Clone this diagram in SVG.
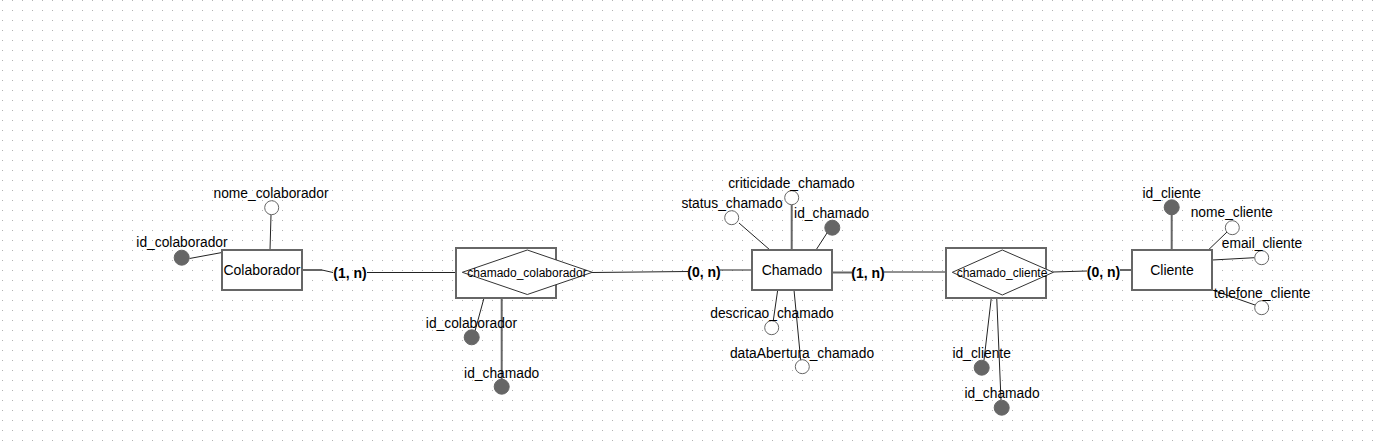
<svg xmlns="http://www.w3.org/2000/svg" width="1375" height="445" viewBox="0 0 1375 445">
<defs>
<pattern id="grid" x="0" y="0" width="10" height="10" patternUnits="userSpaceOnUse">
<rect x="2" y="0" width="1" height="1" fill="#b3b3b3"/>
</pattern>
<style>
.ent{fill:#fff;stroke:#666;stroke-width:2}
.rel{fill:#fff;stroke:#666;stroke-width:2}
.dia{fill:#fff;stroke:#333;stroke-width:1}
.key{fill:#666;stroke:#666;stroke-width:1}
.att{fill:#fff;stroke:#666;stroke-width:1}
.ln{fill:none;stroke:#222;stroke-width:1}
.lg{fill:none;stroke:#666;stroke-width:2}
text{font-family:"Liberation Sans",Arial,sans-serif;fill:#000}
.lbl{font-size:13.8px;text-anchor:middle}
.name{font-size:14px;text-anchor:middle}
.rname{font-size:12px;text-anchor:middle}
.card{font-size:14px;font-weight:bold;text-anchor:middle}
</style>
</defs>
<rect width="1375" height="445" fill="#fff"/>
<rect width="1375" height="445" fill="url(#grid)"/>

<g id="connectors">
<polyline class="lg" points="302,270 322,270"/>
<polyline class="ln" points="322,270 333,272.5"/>
<line class="ln" x1="367" y1="272.5" x2="456" y2="272.5"/>
<line class="ln" x1="592" y1="272.5" x2="688" y2="271.5"/>
<line class="ln" x1="720" y1="270" x2="752" y2="270"/>
<line class="lg" x1="832" y1="272.5" x2="852" y2="272.5"/>
<line class="ln" x1="884" y1="272" x2="946" y2="272"/>
<line class="ln" x1="1053" y1="272" x2="1087" y2="271"/>
<line class="lg" x1="1120" y1="270" x2="1132" y2="270"/>
<!-- attribute lines -->
<line class="ln" x1="271" y1="215" x2="270" y2="250"/>
<line class="ln" x1="189.5" y1="258.5" x2="222" y2="252.5"/>
<line class="ln" x1="484" y1="298" x2="475" y2="331"/>
<line class="lg" x1="501.7" y1="298" x2="501.7" y2="387"/>
<line class="ln" x1="739" y1="223" x2="770" y2="250"/>
<line class="lg" x1="791.7" y1="205" x2="791.7" y2="250"/>
<line class="ln" x1="827" y1="233" x2="816" y2="250"/>
<line class="ln" x1="777.7" y1="290" x2="773.3" y2="320.5"/>
<line class="ln" x1="794" y1="290" x2="800.7" y2="360"/>
<line class="lg" x1="1171.7" y1="213" x2="1171.7" y2="250"/>
<line class="ln" x1="1227" y1="232" x2="1208.3" y2="250"/>
<line class="ln" x1="1212.3" y1="260" x2="1254.5" y2="257.7"/>
<line class="ln" x1="1212.3" y1="290" x2="1255" y2="305"/>
<line class="ln" x1="991.7" y1="294.5" x2="984" y2="360"/>
<line class="ln" x1="996.7" y1="297" x2="1001" y2="400"/>
<text class="card" x="350" y="277.5">(1, n)</text>
<text class="card" x="704" y="277">(0, n)</text>
<text class="card" x="868" y="277.5">(1, n)</text>
<text class="card" x="1103.5" y="276.5">(0, n)</text>
</g>

<g id="Colaborador">
<rect class="ent" x="222" y="250" width="80" height="40"/>
<text class="name" x="262" y="275">Colaborador</text>
</g>
<g id="attr-nome_colaborador">
<circle class="att" cx="271.7" cy="207.7" r="7"/>
<text class="lbl" x="271" y="198">nome_colaborador</text>
</g>
<g id="attr-id_colaborador">
<circle class="key" cx="181.7" cy="257.7" r="7.5"/>
<text class="lbl" x="182" y="247">id_colaborador</text>
</g>

<g id="chamado_colaborador">
<rect class="rel" x="456" y="248" width="100" height="50"/>
<polygon class="dia" points="462.3,272.3 527.3,250 592.3,272.3 527.3,294.5"/>
<text class="rname" x="527" y="276.5">chamado_colaborador</text>
</g>
<g id="attr-cc-id_colaborador">
<circle class="key" cx="471.7" cy="337.3" r="7.5"/>
<text class="lbl" x="471.5" y="327.5">id_colaborador</text>
</g>
<g id="attr-cc-id_chamado">
<circle class="key" cx="501.7" cy="386.7" r="7.5"/>
<text class="lbl" x="501.7" y="377.5">id_chamado</text>
</g>

<g id="Chamado">
<rect class="ent" x="752" y="250" width="80" height="40"/>
<text class="name" x="792" y="275">Chamado</text>
</g>
<g id="attr-status_chamado">
<circle class="att" cx="731.7" cy="217.7" r="7"/>
<text class="lbl" x="732" y="207.5">status_chamado</text>
</g>
<g id="attr-criticidade_chamado">
<circle class="att" cx="791.7" cy="197.7" r="7"/>
<text class="lbl" x="791.5" y="187.5">criticidade_chamado</text>
</g>
<g id="attr-id_chamado">
<circle class="key" cx="832.3" cy="227.7" r="7.5"/>
<text class="lbl" x="831.7" y="218">id_chamado</text>
</g>
<g id="attr-descricao_chamado">
<circle class="att" cx="771.7" cy="327.7" r="7"/>
<text class="lbl" x="772" y="318">descricao_chamado</text>
</g>
<g id="attr-dataAbertura_chamado">
<circle class="att" cx="802.3" cy="366.7" r="7"/>
<text class="lbl" x="802" y="357.5">dataAbertura_chamado</text>
</g>

<g id="chamado_cliente">
<rect class="rel" x="946" y="248" width="100" height="50"/>
<polygon class="dia" points="952.3,272.3 1002.3,250 1053.3,272.3 1002.3,295"/>
<text class="rname" x="1002" y="276.5">chamado_cliente</text>
</g>
<g id="attr-ccl-id_cliente">
<circle class="key" cx="981.7" cy="367.7" r="7.5"/>
<text class="lbl" x="981.7" y="357.5">id_cliente</text>
</g>
<g id="attr-ccl-id_chamado">
<circle class="key" cx="1001.7" cy="407.7" r="7.5"/>
<text class="lbl" x="1002" y="397.5">id_chamado</text>
</g>

<g id="Cliente">
<rect class="ent" x="1132" y="250" width="80" height="40"/>
<text class="name" x="1172" y="275">Cliente</text>
</g>
<g id="attr-id_cliente">
<circle class="key" cx="1171.7" cy="207.3" r="7.5"/>
<text class="lbl" x="1171.7" y="197.5">id_cliente</text>
</g>
<g id="attr-nome_cliente">
<circle class="att" cx="1232.3" cy="227.7" r="7"/>
<text class="lbl" x="1231.7" y="217">nome_cliente</text>
</g>
<g id="attr-email_cliente">
<circle class="att" cx="1261.7" cy="257.7" r="7"/>
<text class="lbl" x="1262" y="247.5">email_cliente</text>
</g>
<g id="attr-telefone_cliente">
<circle class="att" cx="1261.7" cy="307.7" r="7"/>
<text class="lbl" x="1262" y="297.5">telefone_cliente</text>
</g>
</svg>
